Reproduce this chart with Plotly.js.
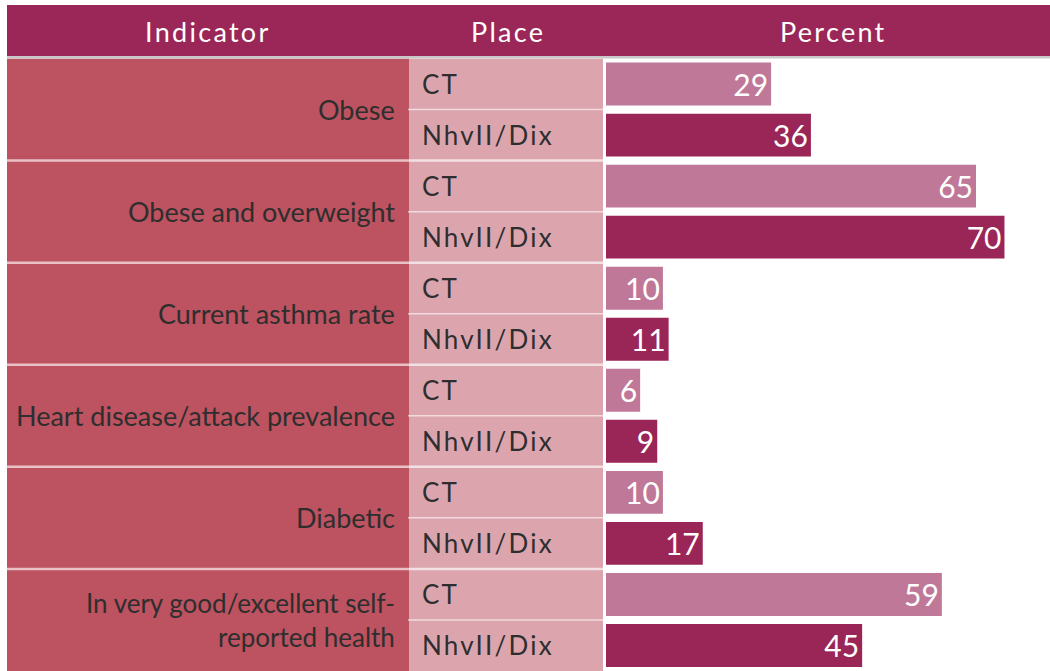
<!DOCTYPE html>
<html>
<head>
<meta charset="utf-8">
<script src="https://cdn.plot.ly/plotly-3.0.1.min.js"></script>
<style>
html,body{margin:0;padding:0;background:#fff;}
#chart{width:1050px;height:671px;}
</style>
</head>
<body>
<div id="chart"></div>
<script>
// ---- data ----
var indicators = ["Obese", "Obese and overweight", "Current asthma rate", "Heart disease/attack prevalence", "Diabetic", "In very good/excellent self-<br>reported health"];
var places = ["CT", "NhvII/Dix"];
var ctValues = [29, 65, 10, 6, 10, 59];
var nhvValues = [36, 70, 11, 9, 17, 45];
var headers = ["Indicator", "Place", "Percent"];

// ---- layout constants ----
var W = 1050, H = 671;
var FONT = "Lato, 'Open Sans', sans-serif";
var headerColor = "#9A2757";
var leftColor = "#BD5260";
var midColor = "#DCA5AE";
var ctColor = "#BF7898";
var nhvColor = "#9A2557";
function px(x){ return x / W; }
function py(y){ return (H - y) / H; }
function spaced(t, s){ return '<span style="letter-spacing:' + s + 'px">' + t + '</span>'; }

var nG = indicators.length;
var ctY = [], nhvY = [];
for (var g = 0; g < nG; g++) { ctY.push(2*g); nhvY.push(2*g+1); }

var traces = [
  { type: "bar", orientation: "h", name: places[0], x: ctValues, y: ctY, width: 0.84,
    marker: {color: ctColor}, text: ctValues.map(String), textposition: "inside",
    insidetextanchor: "end", constraintext: "none",
    textfont: {family: FONT, size: 30, color: "#ffffff"}, hoverinfo: "skip" },
  { type: "bar", orientation: "h", name: places[1], x: nhvValues, y: nhvY, width: 0.84,
    marker: {color: nhvColor}, text: nhvValues.map(String), textposition: "inside",
    insidetextanchor: "end", constraintext: "none",
    textfont: {family: FONT, size: 30, color: "#ffffff"}, hoverinfo: "skip" }
];

var nRows = nG * 2;
var shapes = [
  {type: "rect", xref: "paper", yref: "paper", x0: px(7), x1: 1, y0: py(56), y1: py(5),
   fillcolor: headerColor, line: {width: 0}, layer: "below"},
  {type: "rect", xref: "paper", yref: "paper", x0: px(7), x1: 1, y0: py(58.5), y1: py(56),
   fillcolor: "#C8C8C8", line: {width: 0}, layer: "below"},
  {type: "rect", xref: "paper", yref: "y", x0: px(7), x1: px(409), y0: -0.5, y1: nRows - 0.5,
   fillcolor: leftColor, line: {width: 0}, layer: "below"},
  {type: "rect", xref: "paper", yref: "y", x0: px(409), x1: px(603), y0: -0.5, y1: nRows - 0.5,
   fillcolor: midColor, line: {width: 0}, layer: "below"}
];
for (var g = 0; g < nG; g++) {
  shapes.push({type: "line", xref: "paper", yref: "y", x0: px(408), x1: px(603), y0: 2*g + 0.5, y1: 2*g + 0.5,
    line: {color: "rgba(255,255,255,0.6)", width: 1.5}, layer: "below"});
  if (g > 0) {
    shapes.push({type: "line", xref: "paper", yref: "y", x0: px(7), x1: px(603), y0: 2*g - 0.5, y1: 2*g - 0.5,
      line: {color: "rgba(255,255,255,0.65)", width: 2.5}, layer: "below"});
  }
}

var annotations = [];
var headerX = [208, 508, 833];
for (var i = 0; i < headers.length; i++) {
  annotations.push({xref: "paper", yref: "paper", x: px(headerX[i]), y: py(31), text: spaced(headers[i], 2.3),
    showarrow: false, xanchor: "center", yanchor: "middle",
    font: {family: FONT, size: 27, color: "#ffffff"}});
}
for (var g = 0; g < nG; g++) {
  var multi = indicators[g].indexOf("<br>") >= 0;
  annotations.push({xref: "paper", yref: "y", x: px(397), y: 2*g + 0.5, text: indicators[g],
    showarrow: false, xanchor: "right", yanchor: "middle", align: "right",
    font: {family: FONT, size: multi ? 26 : 27, color: "#2e2e2e"}});
  for (var p = 0; p < places.length; p++) {
    annotations.push({xref: "paper", yref: "y", x: px(420), y: 2*g + p, text: spaced(places[p], 2.2),
      showarrow: false, xanchor: "left", yanchor: "middle",
      font: {family: FONT, size: 26, color: "#2e2e2e"}});
  }
}

var layout = {
  width: W, height: H,
  margin: {l: 0, r: 0, t: 0, b: 0, pad: 0},
  paper_bgcolor: "#ffffff", plot_bgcolor: "rgba(0,0,0,0)",
  showlegend: false,
  barmode: "overlay",
  xaxis: {domain: [606/W, 1], range: [0, 78], showgrid: false, zeroline: false,
          showticklabels: false, showline: false, fixedrange: true},
  yaxis: {domain: [0, (H - 58.5)/H], range: [nRows - 0.5, -0.5], showgrid: false, zeroline: false,
          showticklabels: false, showline: false, fixedrange: true},
  shapes: shapes,
  annotations: annotations
};

Plotly.newPlot("chart", traces, layout, {displayModeBar: false, staticPlot: true});
</script>
</body>
</html>
